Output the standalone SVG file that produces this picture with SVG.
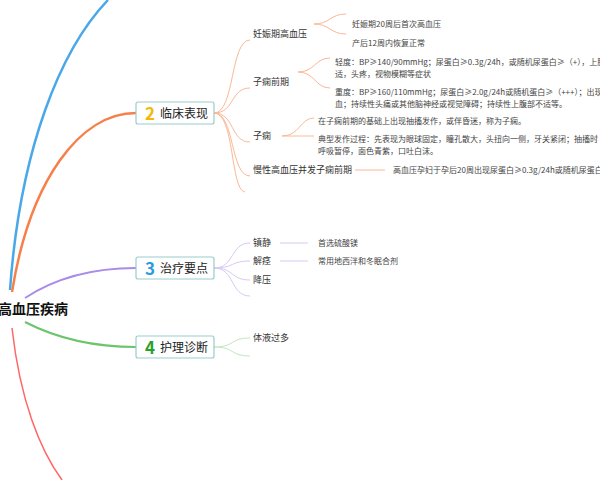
<svg xmlns="http://www.w3.org/2000/svg" width="600" height="480" viewBox="0 0 600 480">
<style>
text{font-family:"Noto Sans CJK SC","Liberation Sans",sans-serif;fill:#333;font-size:9px}
.l3{font-size:8px;fill:#444}
.box{fill:#fff;stroke:#9cc;stroke-width:1.2}
.bt{font-size:12px;fill:#222}
.num{font-size:17px;font-weight:bold}
path{fill:none}
</style>
<rect width="600" height="480" fill="#fff"/>
<g id="connectors">
<path d="M10,290 C20,150 60,50 108,0" stroke="#4aa8e8" stroke-width="2.5"/>
<path d="M12,292 C30,180 80,113 136,113" stroke="#f7804a" stroke-width="2.5"/>
<path d="M25,298 C60,275 100,268 136,268" stroke="#a98be8" stroke-width="2"/>
<path d="M25,322 C60,340 100,347 136,347" stroke="#6cc46c" stroke-width="2"/>
<path d="M12,328 C20,400 40,450 62,480" stroke="#f66" stroke-width="1.5"/>
<g stroke="#fbb896" stroke-width="1">
<path d="M214,113 C235,113 230,40 250,40"/>
<path d="M214,113 C235,113 230,88 250,88"/>
<path d="M214,113 C235,113 230,142 250,142"/>
<path d="M214,113 C235,113 230,176 250,176"/>
<path d="M214,113 C235,113 230,190 245,192"/>
<path d="M314,24 C330,24 330,14 346,14"/>
<path d="M314,24 C330,24 330,34 346,34"/>
<path d="M298,72 C315,72 315,58 330,58"/>
<path d="M298,72 C315,72 315,88 330,88"/>
<path d="M282,136 C300,136 300,118 314,118"/>
<path d="M282,136 C300,136 300,136 314,136"/>
<path d="M355,170 H385"/>
</g>
<g stroke="#d6c8f5" stroke-width="1">
<path d="M214,268 C235,268 230,243 250,243"/>
<path d="M214,268 C235,268 230,261 250,261"/>
<path d="M214,268 C235,268 230,280 250,280"/>
<path d="M214,268 C235,268 230,296 250,296"/>
<path d="M280,243 H308"/>
<path d="M280,261 H308"/>
</g>
<g stroke="#bfe6bf" stroke-width="1">
<path d="M214,347 C235,347 230,338 250,338"/>
<path d="M214,347 C235,347 230,356 250,356"/>
</g>
</g>
<g id="root"><text x="-2" y="314" style="font-size:14px;font-weight:bold;fill:#111">高血压疾病</text></g>
<g id="n2"><rect class="box" x="136" y="102" width="78" height="22" rx="2"/><text class="num" x="145" y="120" fill="#f5b800" style="fill:#f5b800">2</text><text class="bt" x="160" y="118">临床表现</text></g>
<g id="n3"><rect class="box" x="136" y="257" width="78" height="22" rx="2"/><text class="num" x="145" y="275" style="fill:#2a9be0">3</text><text class="bt" x="160" y="273">治疗要点</text></g>
<g id="n4"><rect class="box" x="136" y="336" width="78" height="22" rx="2"/><text class="num" x="145" y="354" style="fill:#2aa02a">4</text><text class="bt" x="160" y="352">护理诊断</text></g>
<g id="n2c">
<text x="253" y="37">妊娠期高血压</text>
<text x="253" y="85">子痫前期</text>
<text x="253" y="139">子痫</text>
<text x="253" y="173">慢性高血压并发子痫前期</text>
<text class="l3" x="352" y="27">妊娠期20周后首次高血压</text>
<text class="l3" x="352" y="46">产后12周内恢复正常</text>
<text class="l3" x="335" y="65">轻度：BP≥140/90mmHg；尿蛋白≥0.3g/24h，或随机尿蛋白≥（+），上腹不</text>
<text class="l3" x="335" y="77">适，头疼，视物模糊等症状</text>
<text class="l3" x="335" y="95">重度：BP≥160/110mmHg；尿蛋白≥2.0g/24h或随机蛋白≥（+++）；出现视网膜出</text>
<text class="l3" x="335" y="107">血；持续性头痛或其他脑神经或视觉障碍；持续性上腹部不适等。</text>
<text class="l3" x="318" y="124">在子痫前期的基础上出现抽搐发作，或伴昏迷，称为子痫。</text>
<text class="l3" x="318" y="142">典型发作过程：先表现为眼球固定，瞳孔散大，头扭向一侧，牙关紧闭；抽搐时</text>
<text class="l3" x="318" y="154">呼吸暂停，面色青紫，口吐白沫。</text>
<text class="l3" x="393" y="173">高血压孕妇于孕后20周出现尿蛋白≥0.3g/24h或随机尿蛋白≥（+）</text>
</g>
<g id="n3c">
<text x="253" y="246">镇静</text>
<text x="253" y="264">解痉</text>
<text x="253" y="283">降压</text>
<text class="l3" x="318" y="246">首选硫酸镁</text>
<text class="l3" x="318" y="264">常用地西泮和冬眠合剂</text>
</g>
<g id="n4c"><text x="253" y="341">体液过多</text></g>
</svg>
